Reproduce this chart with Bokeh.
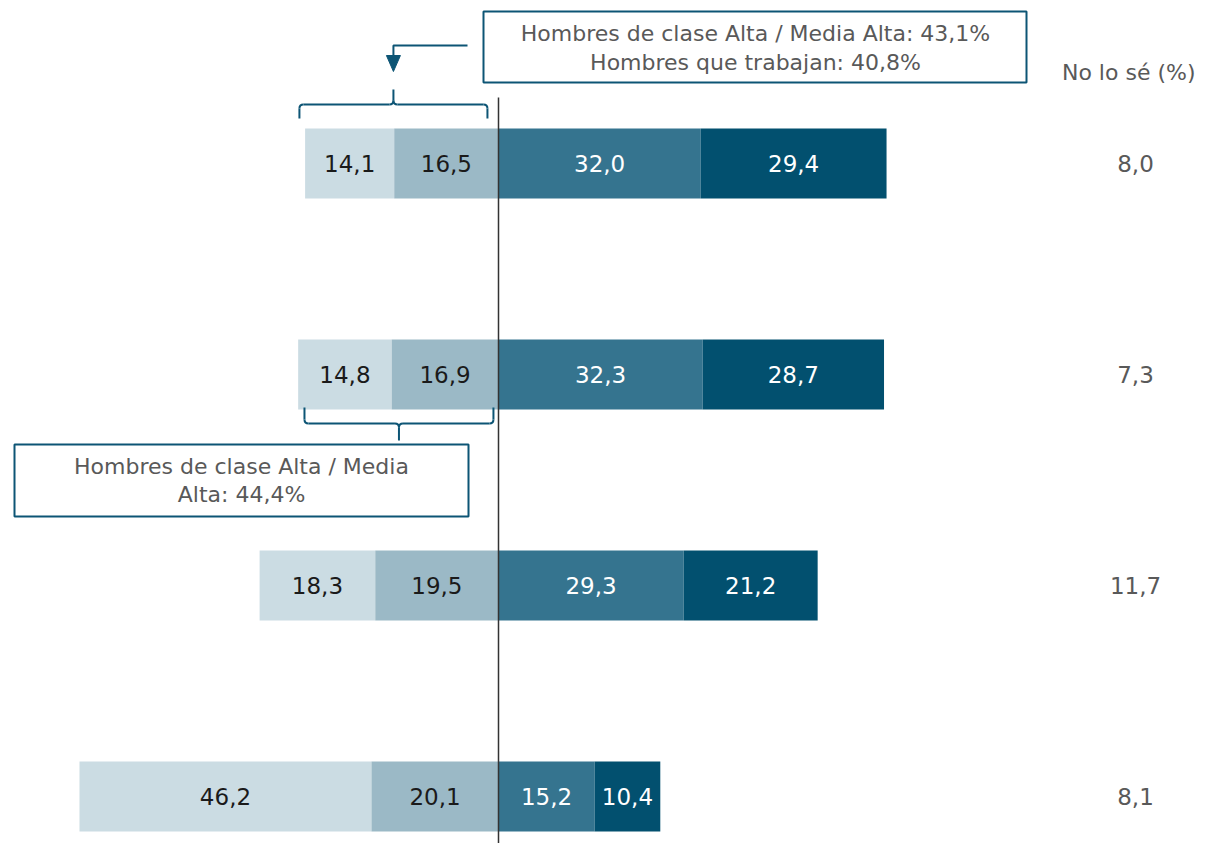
from bokeh.plotting import figure
from bokeh.embed import file_html
from bokeh.resources import INLINE
from bokeh.models import ColumnDataSource, Range1d
from bokeh.core.properties import value

# ---- data ----
rows = [3, 2, 1, 0]  # top to bottom
muy_desacuerdo = [14.1, 14.8, 18.3, 46.2]
desacuerdo = [16.5, 16.9, 19.5, 20.1]
de_acuerdo = [32.0, 32.3, 29.3, 15.2]
muy_de_acuerdo = [29.4, 28.7, 21.2, 10.4]
no_lo_se = [8.0, 7.3, 11.7, 8.1]

colors = ["#cbdce3", "#9bb9c6", "#35748f", "#02506f"]
text_colors = ["#1a1a1a", "#1a1a1a", "#ffffff", "#ffffff"]
FONT = "DejaVu Sans"
BORDER = "#0d5575"
GREY = "#595959"

W, H = 1198, 843
XS = 6.32       # px per unit
YS = 211.0      # px per row
x0 = -498 / XS
x1 = x0 + W / XS
y0 = -(H - 796) / YS
y1 = y0 + H / YS


def px2x(sx):
    return x0 + sx / XS


def px2y(sy):
    return y1 - sy / YS


def fmt(v):
    return f"{v:.1f}".replace(".", ",")


p = figure(width=W, height=H, output_backend="svg", toolbar_location=None,
           x_range=Range1d(x0, x1), y_range=Range1d(y0, y1),
           min_border=0, x_axis_location=None, y_axis_location=None)
p.outline_line_color = None
p.xgrid.visible = False
p.ygrid.visible = False
p.background_fill_color = "white"

BH = 70 / YS

lefts = [[], [], [], []]
rights = [[], [], [], []]
for i in range(len(rows)):
    a, b, c, d = muy_desacuerdo[i], desacuerdo[i], de_acuerdo[i], muy_de_acuerdo[i]
    segs = [(-(a + b), -b), (-b, 0), (0, c), (c, c + d)]
    for k, (l, r) in enumerate(segs):
        lefts[k].append(l)
        rights[k].append(r)

series = [muy_desacuerdo, desacuerdo, de_acuerdo, muy_de_acuerdo]
for k in range(4):
    src = ColumnDataSource(dict(
        y=rows, left=lefts[k], right=rights[k],
        mid=[(l + r) / 2 for l, r in zip(lefts[k], rights[k])],
        lab=[fmt(v) for v in series[k]]))
    p.hbar(y="y", left="left", right="right", height=BH, source=src,
           fill_color=colors[k], line_color=None)
    p.text(x="mid", y="y", text="lab", source=src, text_align="center",
           text_baseline="middle", text_color=text_colors[k],
           text_font=value(FONT), text_font_size="23px")

# zero line
p.segment(x0=[0], y0=[px2y(97)], x1=[0], y1=[y0], line_color="#333333", line_width=1.5)

# No lo sé column
nx = px2x(1135)
p.text(x=[nx] * 4, y=rows, text=[fmt(v) for v in no_lo_se], text_align="center",
       text_baseline="middle", text_color=GREY, text_font=value(FONT),
       text_font_size="23px")
p.text(x=[px2x(1195)], y=[px2y(72)], text=["No lo sé (%)"], text_align="right",
       text_baseline="middle", text_color=GREY, text_font=value(FONT),
       text_font_size="22px")


def brace(xl, xr, yend, ybar, ytip):
    rx, ry = 4 / XS, 4 / YS
    s = 1 if yend > ybar else -1
    xm = (xl + xr) / 2
    lw = dict(line_color=BORDER, line_width=2)
    p.multi_line(xs=[[xl, xl], [xl + rx, xm - rx], [xm + rx, xr - rx], [xr, xr], [xm, xm]],
                 ys=[[yend, ybar + s * ry], [ybar, ybar], [ybar, ybar],
                     [ybar + s * ry, yend], [ybar - s * ry, ytip]], **lw)
    p.quadratic(x0=[xl, xr, xm - rx, xm + rx],
                y0=[ybar + s * ry, ybar + s * ry, ybar, ybar],
                x1=[xl + rx, xr - rx, xm, xm],
                y1=[ybar, ybar, ybar - s * ry, ybar - s * ry],
                cx=[xl, xr, xm, xm], cy=[ybar, ybar, ybar, ybar], **lw)


# ---- top annotation ----
r0 = 0
bl = -(muy_desacuerdo[r0] + desacuerdo[r0]) - 0.9
br = -1.75
brace(bl, br, px2y(118), px2y(104), px2y(89))
ax = (bl + br) / 2
p.line(x=[px2x(467), ax, ax], y=[px2y(45), px2y(45), px2y(56)],
       line_color=BORDER, line_width=2)
p.patch(x=[ax - 7 / XS, ax + 7 / XS, ax], y=[px2y(55), px2y(55), px2y(71)],
        fill_color=BORDER, line_color=BORDER)
p.quad(left=[px2x(483)], right=[px2x(1026)], top=[px2y(11)], bottom=[px2y(82)],
       fill_color="white", line_color=BORDER, line_width=2)
bx = px2x(755)
p.text(x=[bx, bx], y=[px2y(33), px2y(62)],
       text=["Hombres de clase Alta / Media Alta: 43,1%", "Hombres que trabajan: 40,8%"],
       text_align="center", text_baseline="middle", text_color=GREY,
       text_font=value(FONT), text_font_size="22px")

# ---- second annotation ----
r1 = 1
cl = -(muy_desacuerdo[r1] + desacuerdo[r1]) + 1.0
cr = -0.8
brace(cl, cr, px2y(407), px2y(423), px2y(440))
p.quad(left=[px2x(14)], right=[px2x(468)], top=[px2y(444)], bottom=[px2y(516)],
       fill_color="white", line_color=BORDER, line_width=2)
cx = px2x(241)
p.text(x=[cx, cx], y=[px2y(466), px2y(494)],
       text=["Hombres de clase Alta / Media", "Alta: 44,4%"],
       text_align="center", text_baseline="middle", text_color=GREY,
       text_font=value(FONT), text_font_size="22px")

open("out.html", "w").write(file_html(p, INLINE))
